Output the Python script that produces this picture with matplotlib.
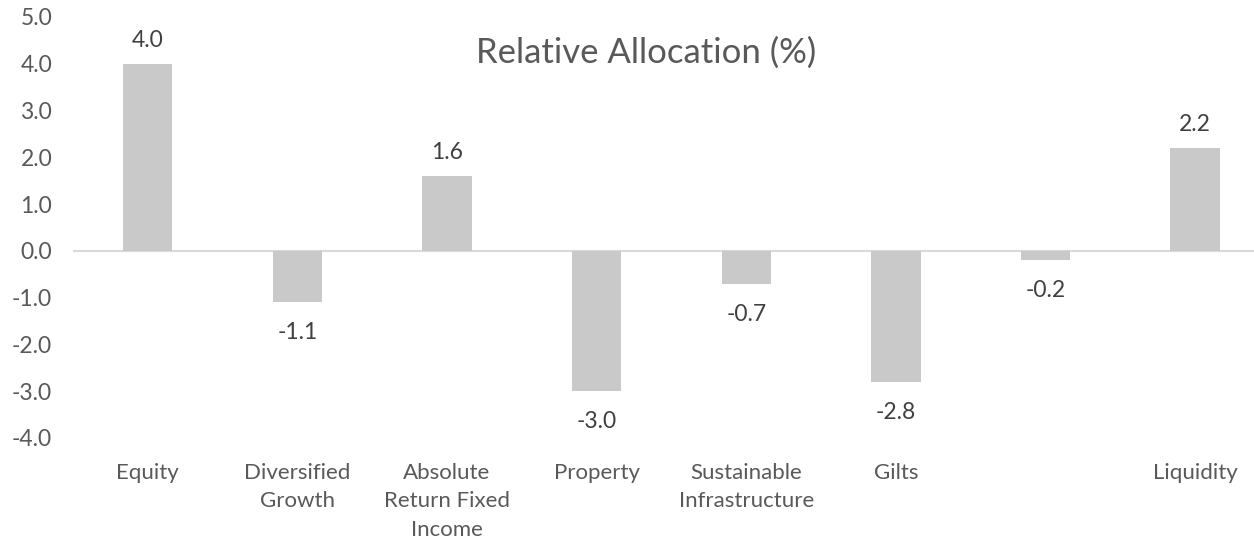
import matplotlib.pyplot as plt
import numpy as np

plt.rcParams['font.family'] = ['Lato', 'DejaVu Sans']

categories = ["Equity", "Diversified\nGrowth", "Absolute\nReturn Fixed\nIncome", "Property",
              "Sustainable\nInfrastructure", "Gilts", "", "Liquidity"]
values = [4.0, -1.1, 1.6, -3.0, -0.7, -2.8, -0.2, 2.2]

text_col = "#595959"
bar_col = "#c9c9c9"

fig = plt.figure(figsize=(12.54, 5.39), dpi=100)
ax = fig.add_axes([0.0582, 0.1874, 0.9545, 0.7811])

x = np.arange(len(categories))
ax.bar(x, values, width=0.33, color=bar_col, zorder=2)
ax.axhline(0, color="#d9d9d9", lw=1.5, zorder=1)

for xi, v in zip(x, values):
    off = 17 if v >= 0 else -22
    ax.annotate(f"{v:.1f}", (xi, v), xytext=(0, off), textcoords="offset points",
                ha="center", va="center", fontsize=16.5, color="#404040")

ax.set_xlim(-0.5, len(categories) - 0.5)
ax.set_ylim(-4, 5)
ax.set_yticks(np.arange(-4, 5.1, 1))
ax.set_yticklabels([f"{t:.1f}" for t in np.arange(-4, 5.1, 1)])
ax.set_xticks(x)
ax.set_xticklabels(categories, fontsize=16, color=text_col, linespacing=1.52)
ax.tick_params(axis="y", length=0, pad=15, labelsize=16.5, labelcolor=text_col)
ax.tick_params(axis="x", length=0, pad=18)
for s in ax.spines.values():
    s.set_visible(False)

fig.text(0.515, 0.902, "Relative Allocation (%)", ha="center", va="center",
         fontsize=25, color=text_col)

fig.savefig("out.png", dpi=100)
